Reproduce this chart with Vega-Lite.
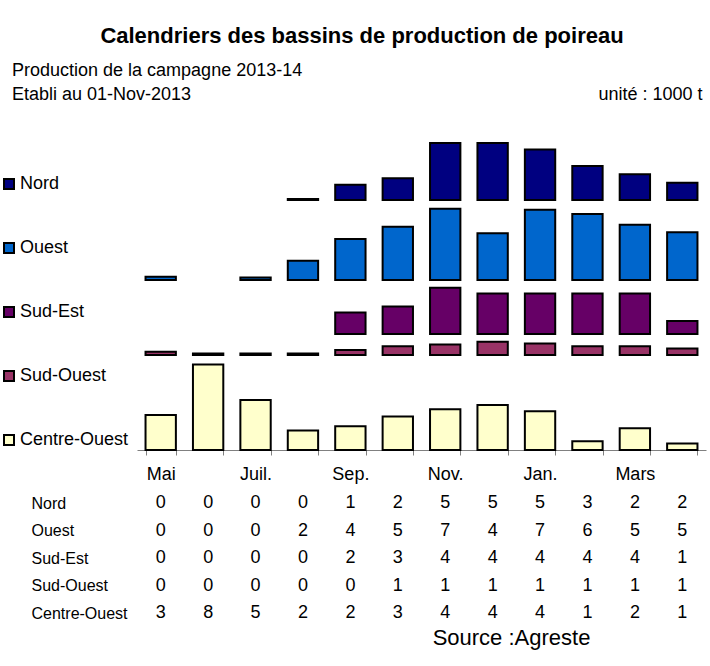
{
  "$schema": "https://vega.github.io/schema/vega-lite/v6.json",
  "background": "white",
  "padding": {"left": 0, "top": 25, "right": 3, "bottom": 5},
  "title": {"text": "Calendriers des bassins de production de poireau", "fontSize": 22, "fontWeight": "bold", "anchor": "middle", "dx": 9, "offset": 14, "color": "black", "font": "Liberation Sans"},
  "config": {
    "font": "Liberation Sans",
    "view": {"stroke": null},
    "concat": {"spacing": 0},
    "axis": {"labelFont": "Liberation Sans", "titleFont": "Liberation Sans", "labelColor": "black", "titleColor": "black"},
    "legend": {"labelFont": "Liberation Sans"}
  },
  "datasets": {
    "prod": [
      {"mois": "Mai", "region": "Nord", "value": 0},
      {"mois": "Juin", "region": "Nord", "value": 0},
      {"mois": "Juil.", "region": "Nord", "value": 0},
      {"mois": "Août", "region": "Nord", "value": 0.1},
      {"mois": "Sep.", "region": "Nord", "value": 1.45},
      {"mois": "Oct.", "region": "Nord", "value": 2.08},
      {"mois": "Nov.", "region": "Nord", "value": 5.44},
      {"mois": "Déc.", "region": "Nord", "value": 5.44},
      {"mois": "Jan.", "region": "Nord", "value": 4.8},
      {"mois": "Fév.", "region": "Nord", "value": 3.24},
      {"mois": "Mars", "region": "Nord", "value": 2.45},
      {"mois": "Avr.", "region": "Nord", "value": 1.65},
      {"mois": "Mai", "region": "Ouest", "value": 0.3},
      {"mois": "Juin", "region": "Ouest", "value": 0},
      {"mois": "Juil.", "region": "Ouest", "value": 0.25},
      {"mois": "Août", "region": "Ouest", "value": 1.83},
      {"mois": "Sep.", "region": "Ouest", "value": 3.9},
      {"mois": "Oct.", "region": "Ouest", "value": 5.07},
      {"mois": "Nov.", "region": "Ouest", "value": 6.79},
      {"mois": "Déc.", "region": "Ouest", "value": 4.45},
      {"mois": "Jan.", "region": "Ouest", "value": 6.7},
      {"mois": "Fév.", "region": "Ouest", "value": 6.29},
      {"mois": "Mars", "region": "Ouest", "value": 5.26},
      {"mois": "Avr.", "region": "Ouest", "value": 4.55},
      {"mois": "Mai", "region": "Sud-Est", "value": 0},
      {"mois": "Juin", "region": "Sud-Est", "value": 0},
      {"mois": "Juil.", "region": "Sud-Est", "value": 0},
      {"mois": "Août", "region": "Sud-Est", "value": 0},
      {"mois": "Sep.", "region": "Sud-Est", "value": 2.05},
      {"mois": "Oct.", "region": "Sud-Est", "value": 2.62},
      {"mois": "Nov.", "region": "Sud-Est", "value": 4.4},
      {"mois": "Déc.", "region": "Sud-Est", "value": 3.85},
      {"mois": "Jan.", "region": "Sud-Est", "value": 3.85},
      {"mois": "Fév.", "region": "Sud-Est", "value": 3.85},
      {"mois": "Mars", "region": "Sud-Est", "value": 3.85},
      {"mois": "Avr.", "region": "Sud-Est", "value": 1.25},
      {"mois": "Mai", "region": "Sud-Ouest", "value": 0.3},
      {"mois": "Juin", "region": "Sud-Ouest", "value": 0.15},
      {"mois": "Juil.", "region": "Sud-Ouest", "value": 0.15},
      {"mois": "Août", "region": "Sud-Ouest", "value": 0.15},
      {"mois": "Sep.", "region": "Sud-Ouest", "value": 0.48},
      {"mois": "Oct.", "region": "Sud-Ouest", "value": 0.83},
      {"mois": "Nov.", "region": "Sud-Ouest", "value": 1.0},
      {"mois": "Déc.", "region": "Sud-Ouest", "value": 1.26},
      {"mois": "Jan.", "region": "Sud-Ouest", "value": 1.1},
      {"mois": "Fév.", "region": "Sud-Ouest", "value": 0.83},
      {"mois": "Mars", "region": "Sud-Ouest", "value": 0.83},
      {"mois": "Avr.", "region": "Sud-Ouest", "value": 0.62},
      {"mois": "Mai", "region": "Centre-Ouest", "value": 3.33},
      {"mois": "Juin", "region": "Centre-Ouest", "value": 8.14},
      {"mois": "Juil.", "region": "Centre-Ouest", "value": 4.77},
      {"mois": "Août", "region": "Centre-Ouest", "value": 1.86},
      {"mois": "Sep.", "region": "Centre-Ouest", "value": 2.27},
      {"mois": "Oct.", "region": "Centre-Ouest", "value": 3.18},
      {"mois": "Nov.", "region": "Centre-Ouest", "value": 3.88},
      {"mois": "Déc.", "region": "Centre-Ouest", "value": 4.28},
      {"mois": "Jan.", "region": "Centre-Ouest", "value": 3.7},
      {"mois": "Fév.", "region": "Centre-Ouest", "value": 0.83},
      {"mois": "Mars", "region": "Centre-Ouest", "value": 2.08},
      {"mois": "Avr.", "region": "Centre-Ouest", "value": 0.61}
    ]
  },
  "resolve": {"scale": {"color": "shared"}},
  "vconcat": [
    {
      "width": 569, "height": 74,
      "data": {"name": "prod"},
      "transform": [{"filter": "datum.region === 'Nord' && datum.value > 0"}],
      "title": {"text": "Production de la campagne 2013-14", "subtitle": "Etabli au 01-Nov-2013", "anchor": "start", "frame": "group", "dx": -125, "offset": -19, "fontSize": 18, "fontWeight": "normal", "subtitleFontSize": 18, "subtitlePadding": 6, "color": "black", "subtitleColor": "black", "font": "Liberation Sans", "subtitleFont": "Liberation Sans"},
      "mark": {"type": "bar", "stroke": "black", "strokeWidth": 2},
      "encoding": {
        "x": {"field": "mois", "type": "nominal", "sort": null,
          "scale": {"domain": ["Mai","Juin","Juil.","Août","Sep.","Oct.","Nov.","Déc.","Jan.","Fév.","Mars","Avr."], "paddingInner": 0.36, "paddingOuter": 0.18},
          "axis": {"orient": "top", "labels": false, "ticks": false, "domain": false, "title": "unité : 1000 t", "titleX": 565, "titleY": -32, "titleAlign": "right", "titleBaseline": "middle", "titleFontSize": 18, "titleFontWeight": "normal", "titleAnchor": null}},
        "y": {"field": "value", "type": "quantitative", "scale": {"domain": [0, 7.048], "nice": false}, "axis": null},
        "color": {"field": "region", "type": "nominal",
          "scale": {"domain": ["Nord","Ouest","Sud-Est","Sud-Ouest","Centre-Ouest"], "range": ["#000080","#0066CC","#660066","#993366","#FFFFCC"]},
          "legend": {"title": null, "orient": "none", "legendX": -137, "legendY": 49, "padding": 0, "symbolType": "square", "symbolSize": 100, "symbolStrokeColor": "black", "symbolStrokeWidth": 2, "labelFontSize": 18, "labelColor": "black", "rowPadding": 46, "labelOffset": 2,
            "encode": {"symbols": {"update": {"stroke": {"value": "black"}, "strokeWidth": {"value": 2}, "opacity": {"value": 1}}}}}}
      }
    },
    {
      "width": 569, "height": 79,
      "data": {"name": "prod"},
      "transform": [{"filter": "datum.region === 'Ouest' && datum.value > 0"}],
      "mark": {"type": "bar", "stroke": "black", "strokeWidth": 2},
      "encoding": {
        "x": {"field": "mois", "type": "nominal", "sort": null,
          "scale": {"domain": ["Mai","Juin","Juil.","Août","Sep.","Oct.","Nov.","Déc.","Jan.","Fév.","Mars","Avr."], "paddingInner": 0.36, "paddingOuter": 0.18}, "axis": null},
        "y": {"field": "value", "type": "quantitative", "scale": {"domain": [0, 7.524], "nice": false}, "axis": null},
        "color": {"field": "region", "type": "nominal"}
      }
    },
    {
      "width": 569, "height": 53,
      "data": {"name": "prod"},
      "transform": [{"filter": "datum.region === 'Sud-Est' && datum.value > 0"}],
      "mark": {"type": "bar", "stroke": "black", "strokeWidth": 2},
      "encoding": {
        "x": {"field": "mois", "type": "nominal", "sort": null,
          "scale": {"domain": ["Mai","Juin","Juil.","Août","Sep.","Oct.","Nov.","Déc.","Jan.","Fév.","Mars","Avr."], "paddingInner": 0.36, "paddingOuter": 0.18}, "axis": null},
        "y": {"field": "value", "type": "quantitative", "scale": {"domain": [0, 5.048], "nice": false}, "axis": null},
        "color": {"field": "region", "type": "nominal"}
      }
    },
    {
      "width": 569, "height": 20,
      "data": {"name": "prod"},
      "transform": [{"filter": "datum.region === 'Sud-Ouest' && datum.value > 0"}],
      "mark": {"type": "bar", "stroke": "black", "strokeWidth": 2},
      "encoding": {
        "x": {"field": "mois", "type": "nominal", "sort": null,
          "scale": {"domain": ["Mai","Juin","Juil.","Août","Sep.","Oct.","Nov.","Déc.","Jan.","Fév.","Mars","Avr."], "paddingInner": 0.36, "paddingOuter": 0.18}, "axis": null},
        "y": {"field": "value", "type": "quantitative", "scale": {"domain": [0, 1.905], "nice": false}, "axis": null},
        "color": {"field": "region", "type": "nominal"}
      }
    },
    {
      "width": 569, "height": 94,
      "data": {"name": "prod"},
      "transform": [{"filter": "datum.region === 'Centre-Ouest' && datum.value > 0"}],
      "mark": {"type": "bar", "stroke": "black", "strokeWidth": 2},
      "encoding": {
        "x": {"field": "mois", "type": "nominal", "sort": null,
          "scale": {"domain": ["Mai","Juin","Juil.","Août","Sep.","Oct.","Nov.","Déc.","Jan.","Fév.","Mars","Avr."], "paddingInner": 0.36, "paddingOuter": 0.18},
          "axis": {"orient": "bottom", "title": null, "domainColor": "#808080", "domainWidth": 1, "tickColor": "#808080", "tickWidth": 1, "tickSize": 5, "tickBand": "extent", "labelAngle": 0, "labelFontSize": 18, "labelPadding": 10, "labelColor": "black",
            "labelExpr": "indexof(['Mai','Juil.','Sep.','Nov.','Jan.','Mars'], datum.value) >= 0 ? datum.value : ''"}},
        "y": {"field": "value", "type": "quantitative", "scale": {"domain": [0, 8.952], "nice": false}, "axis": null},
        "color": {"field": "region", "type": "nominal"}
      }
    },
    {
      "width": 569, "height": 150.6,
      "data": {"name": "prod"},
      "mark": {"type": "text", "fontSize": 18, "align": "center", "baseline": "middle", "color": "black", "font": "Liberation Sans"},
      "encoding": {
        "x": {"field": "mois", "type": "nominal", "sort": null,
          "scale": {"type": "point", "domain": ["Mai","Juin","Juil.","Août","Sep.","Oct.","Nov.","Déc.","Jan.","Fév.","Mars","Avr."], "padding": 0.5},
          "axis": {"orient": "bottom", "labels": false, "ticks": false, "domain": false, "title": "Source :Agreste", "titleX": 374, "titleY": 3.4, "titleAlign": "center", "titleBaseline": "middle", "titleFontSize": 22, "titleFontWeight": "normal"}},
        "y": {"field": "region", "type": "nominal", "sort": null,
          "scale": {"type": "point", "domain": ["Nord","Ouest","Sud-Est","Sud-Ouest","Centre-Ouest"], "padding": 0.748},
          "axis": {"orient": "left", "title": null, "ticks": false, "domain": false, "labelAlign": "left", "labelPadding": 106, "labelFontSize": 16, "labelColor": "black", "labelBaseline": "middle"}},
        "text": {"field": "value", "type": "quantitative", "format": ".0f"}
      }
    }
  ]
}
